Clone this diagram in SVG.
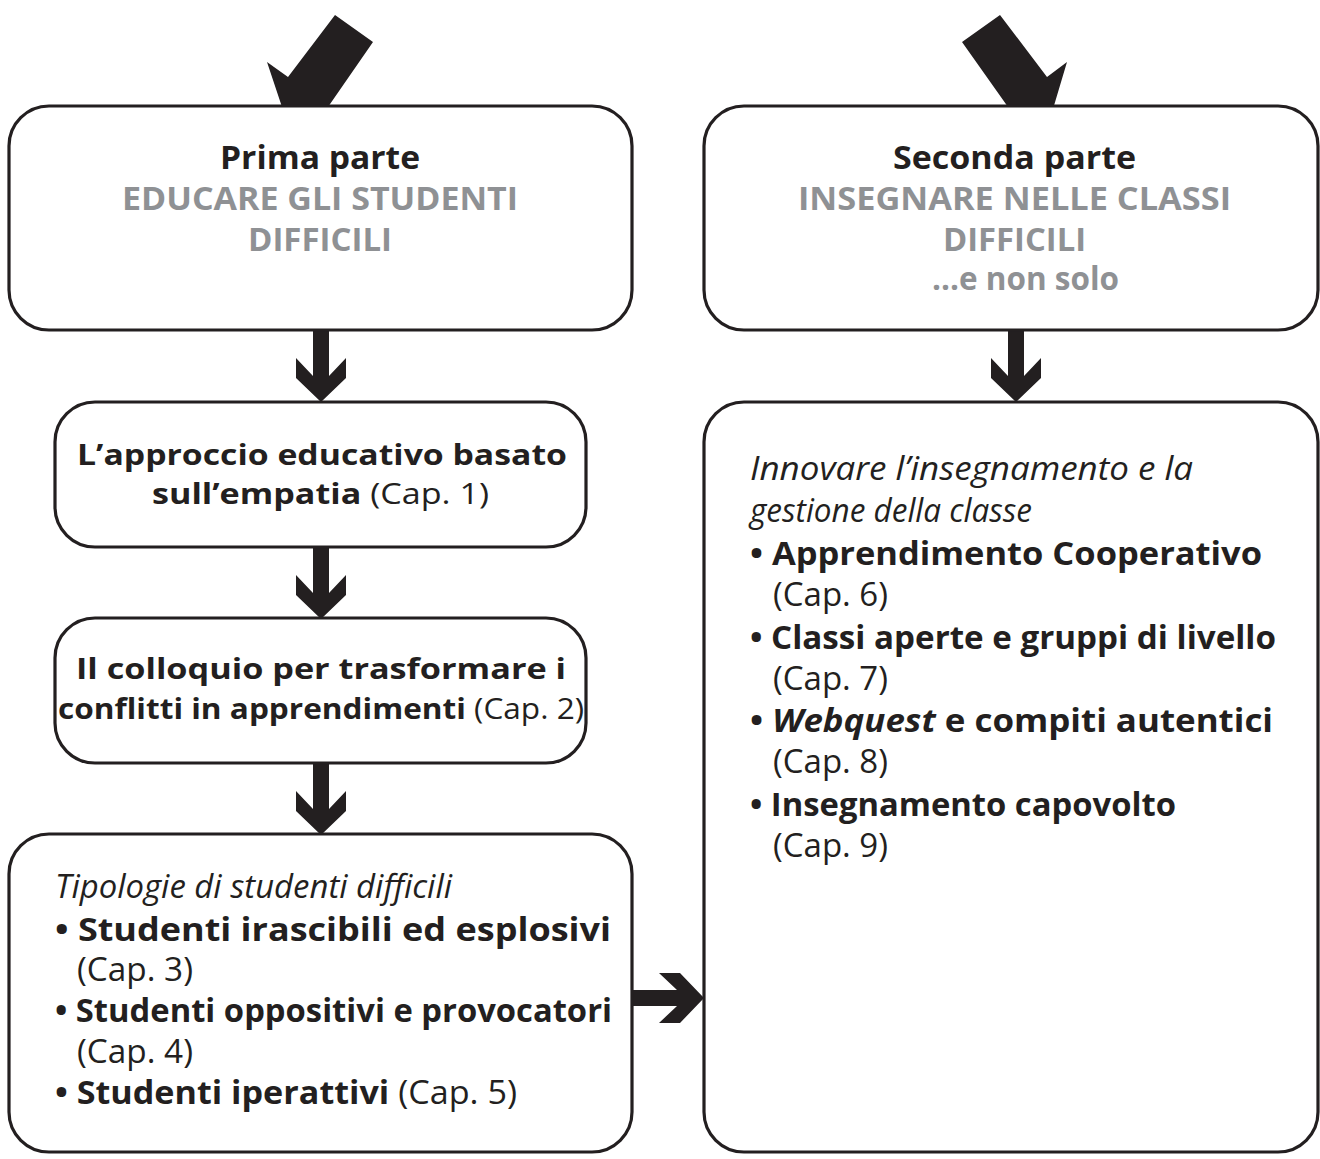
<svg xmlns="http://www.w3.org/2000/svg" width="1320" height="1159" viewBox="0 0 1320 1159">
<style>
.box{fill:#fff;stroke:#231f20;stroke-width:3.2}
.arr{fill:#231f20}
text{font-family:"Open Sans","Noto Sans","DejaVu Sans",sans-serif;font-size:32px;fill:#231f20}
.s{font-size:29px}
.b{font-weight:700}
.g{font-weight:700;fill:#8f9194}
.i{font-style:italic}
</style>
<defs>
<polygon id="down" points="-8,0 8,0 8,46 25,28 25,48 0,72 -25,48 -25,28 -8,46"/>
</defs>
<g id="connectors">
<polygon class="arr" points="335,15 373,42 328,107 343,120 286,119 267,62 288,77"/>
<polygon class="arr" points="962,42 1000,15 1047,77 1067,62 1050,119 992,120 1008,107"/>
<use href="#down" class="arr" x="321" y="330"/>
<use href="#down" class="arr" x="1016" y="330"/>
<use href="#down" class="arr" x="321" y="547"/>
<use href="#down" class="arr" x="321" y="763"/>
<polygon class="arr" points="632,990 677,990 659,973 680,973 704,998 680,1023 659,1023 677,1006 632,1006"/>
</g>
<g id="prima">
<rect class="box" x="9" y="106" width="623" height="224" rx="40"/>
<text class="b" x="220" y="169" textLength="200" lengthAdjust="spacingAndGlyphs">Prima parte</text>
<text class="g" x="122" y="210" textLength="396" lengthAdjust="spacingAndGlyphs">EDUCARE GLI STUDENTI</text>
<text class="g" x="248" y="251" textLength="144" lengthAdjust="spacingAndGlyphs">DIFFICILI</text>
</g>
<g id="seconda">
<rect class="box" x="704" y="106" width="614" height="224" rx="40"/>
<text class="b" x="893" y="169" textLength="243" lengthAdjust="spacingAndGlyphs">Seconda parte</text>
<text class="g" x="798" y="210" textLength="433" lengthAdjust="spacingAndGlyphs">INSEGNARE NELLE CLASSI</text>
<text class="g" x="943" y="251" textLength="143" lengthAdjust="spacingAndGlyphs">DIFFICILI</text>
<text class="g" x="932" y="290" textLength="187" lengthAdjust="spacingAndGlyphs">...e non solo</text>
</g>
<g id="approccio">
<rect class="box" x="55" y="402" width="531" height="145" rx="40"/>
<text class="b s" x="77" y="465" textLength="490" lengthAdjust="spacingAndGlyphs">L’approccio educativo basato</text>
<text class="s" x="152" y="504" textLength="337" lengthAdjust="spacingAndGlyphs"><tspan class="b">sull’empatia</tspan> (Cap. 1)</text>
</g>
<g id="colloquio">
<rect class="box" x="55" y="618" width="531" height="145" rx="40"/>
<text class="b s" x="76" y="679" textLength="490" lengthAdjust="spacingAndGlyphs">Il colloquio per trasformare i</text>
<text class="s" x="58" y="719" textLength="526" lengthAdjust="spacingAndGlyphs"><tspan class="b">conflitti in apprendimenti</tspan> (Cap. 2)</text>
</g>
<g id="tipologie">
<rect class="box" x="9" y="834" width="623" height="318" rx="40"/>
<text class="i" x="55" y="898" textLength="397" lengthAdjust="spacingAndGlyphs">Tipologie di studenti difficili</text>
<text class="b" x="55" y="941" textLength="556" lengthAdjust="spacingAndGlyphs">• Studenti irascibili ed esplosivi</text>
<text x="77" y="981" textLength="116" lengthAdjust="spacingAndGlyphs">(Cap. 3)</text>
<text class="b" x="55" y="1022" textLength="557" lengthAdjust="spacingAndGlyphs">• Studenti oppositivi e provocatori</text>
<text x="77" y="1063" textLength="116" lengthAdjust="spacingAndGlyphs">(Cap. 4)</text>
<text x="55" y="1104" textLength="462" lengthAdjust="spacingAndGlyphs"><tspan class="b">• Studenti iperattivi</tspan> (Cap. 5)</text>
</g>
<g id="innovare">
<rect class="box" x="704" y="402" width="614" height="750" rx="40"/>
<text class="i" x="750" y="480" textLength="443" lengthAdjust="spacingAndGlyphs">Innovare l’insegnamento e la</text>
<text class="i" x="750" y="522" textLength="282" lengthAdjust="spacingAndGlyphs">gestione della classe</text>
<text class="b" x="750" y="565" textLength="512" lengthAdjust="spacingAndGlyphs">• Apprendimento Cooperativo</text>
<text x="773" y="606" textLength="115" lengthAdjust="spacingAndGlyphs">(Cap. 6)</text>
<text class="b" x="750" y="649" textLength="526" lengthAdjust="spacingAndGlyphs">• Classi aperte e gruppi di livello</text>
<text x="773" y="690" textLength="115" lengthAdjust="spacingAndGlyphs">(Cap. 7)</text>
<text class="b" x="750" y="732" textLength="523" lengthAdjust="spacingAndGlyphs">• <tspan class="i">Webquest</tspan> e compiti autentici</text>
<text x="773" y="773" textLength="115" lengthAdjust="spacingAndGlyphs">(Cap. 8)</text>
<text class="b" x="750" y="816" textLength="426" lengthAdjust="spacingAndGlyphs">• Insegnamento capovolto</text>
<text x="773" y="857" textLength="115" lengthAdjust="spacingAndGlyphs">(Cap. 9)</text>
</g>
</svg>
